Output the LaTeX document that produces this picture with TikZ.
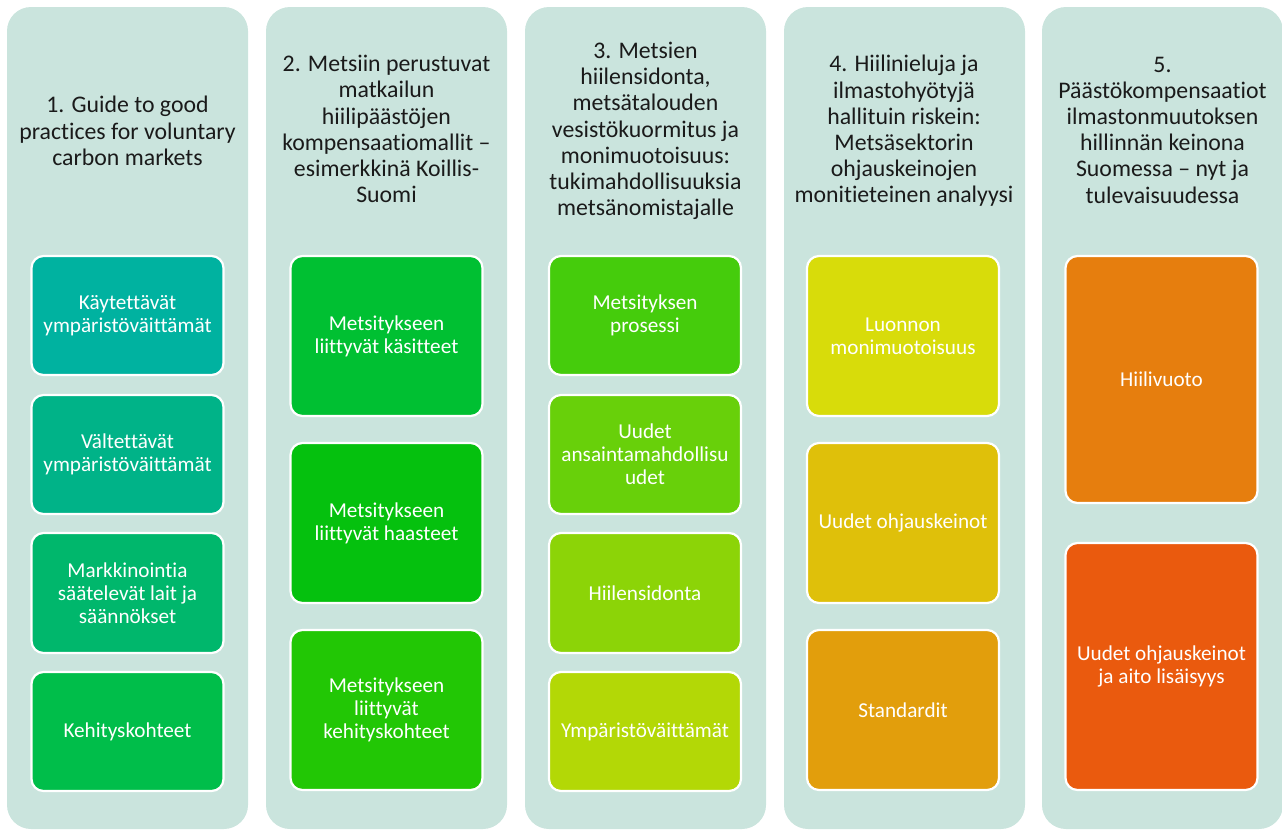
\documentclass[tikz,border=0pt]{standalone}
\usepackage{fontspec}
\setmainfont{Carlito}[Ligatures={NoCommon,NoRare}]
\definecolor{bgc}{HTML}{CAE4DD}
\definecolor{hdc}{HTML}{1A1A1A}
\definecolor{cA}{HTML}{00B2A0}
\definecolor{cB}{HTML}{00B388}
\definecolor{cC}{HTML}{00B76C}
\definecolor{cD}{HTML}{00BE4A}
\definecolor{cE}{HTML}{00C032}
\definecolor{cF}{HTML}{05C10E}
\definecolor{cG}{HTML}{22C705}
\definecolor{cH}{HTML}{45CC0C}
\definecolor{cI}{HTML}{68D00A}
\definecolor{cJ}{HTML}{8CD407}
\definecolor{cK}{HTML}{B3D806}
\definecolor{cL}{HTML}{D8DC0A}
\definecolor{cM}{HTML}{DFC00A}
\definecolor{cN}{HTML}{E29E0C}
\definecolor{cO}{HTML}{E67E0E}
\definecolor{cP}{HTML}{EA5A0E}
\tikzset{
  colbox/.style={fill=bgc, draw=none, rounded corners=24pt},
  hdr/.style={align=center, text=hdc, font=\fontsize{23.8}{26.2}\selectfont, inner sep=0pt},
  itembox/.style={draw=white, line width=2.2pt, rounded corners=12pt, text=white, align=center,
    font=\fontsize{21.2}{23}\selectfont, inner sep=0pt, minimum width=192pt},
}
\newcommand{\itm}[6]{% name, x center, ytop, ybot, color, text
  \node[itembox, fill=#5, minimum height={#4-#3}] (#1) at (#2, {(#3+#4)/2}) {#6};}
\begin{document}
\begin{tikzpicture}[x=1pt,y=-1pt]
\useasboundingbox (0,0) rectangle (1282,830);
% columns
\foreach \i/\xl in {1/7,2/266,3/525,4/784,5/1042}{
  \path[colbox] (\xl,7) rectangle ++(241,822);
}
% headers
\node[hdr] (h1) at (127.5,131) {1. Guide to good\\practices for voluntary\\carbon markets};
\node[hdr] (h2) at (386.5,129) {2. Metsiin perustuvat\\matkailun\\hiilipäästöjen\\kompensaatiomallit –\\esimerkkinä Koillis-\\Suomi};
\node[hdr] (h3) at (645.5,131) {3. Metsien\\hiilensidonta,\\metsätalouden\\vesistökuormitus ja\\monimuotoisuus:\\tukimahdollisuuksia\\metsänomistajalle};
\node[hdr] (h4) at (904,131) {4. Hiilinieluja ja\\ilmastohyötyjä\\hallituin riskein:\\Metsäsektorin\\ohjauskeinojen\\monitieteinen analyysi};
\node[hdr] (h5) at (1162.5,130) {5.\\Päästökompensaatiot\\ilmastonmuutoksen\\hillinnän keinona\\Suomessa – nyt ja\\tulevaisuudessa};
% column 1
\itm{a1}{127.5}{256}{375}{cA}{Käytettävät\\ympäristöväittämät}
\itm{a2}{127.5}{395}{514}{cB}{Vältettävät\\ympäristöväittämät}
\itm{a3}{127.5}{533}{653}{cC}{Markkinointia\\säätelevät lait ja\\säännökset}
\itm{a4}{127.5}{672}{791}{cD}{Kehityskohteet}
% column 2
\itm{b1}{386.5}{256}{416}{cE}{Metsitykseen\\liittyvät käsitteet}
\itm{b2}{386.5}{443}{603}{cF}{Metsitykseen\\liittyvät haasteet}
\itm{b3}{386.5}{630}{790}{cG}{Metsitykseen\\liittyvät\\kehityskohteet}
% column 3
\itm{c1}{645}{256}{375}{cH}{Metsityksen\\prosessi}
\itm{c2}{645}{395}{514}{cI}{Uudet\\ansaintamahdollisu\\udet}
\itm{c3}{645}{533}{653}{cJ}{Hiilensidonta}
\itm{c4}{645}{672}{791}{cK}{Ympäristöväittämät}
% column 4
\itm{d1}{903}{256}{416}{cL}{Luonnon\\monimuotoisuus}
\itm{d2}{903}{443}{603}{cM}{Uudet ohjauskeinot}
\itm{d3}{903}{630}{790}{cN}{Standardit}
% column 5
\itm{e1}{1161.5}{256}{503}{cO}{Hiilivuoto}
\itm{e2}{1161.5}{543}{790}{cP}{Uudet ohjauskeinot\\ja aito lisäisyys}
\end{tikzpicture}
\end{document}
